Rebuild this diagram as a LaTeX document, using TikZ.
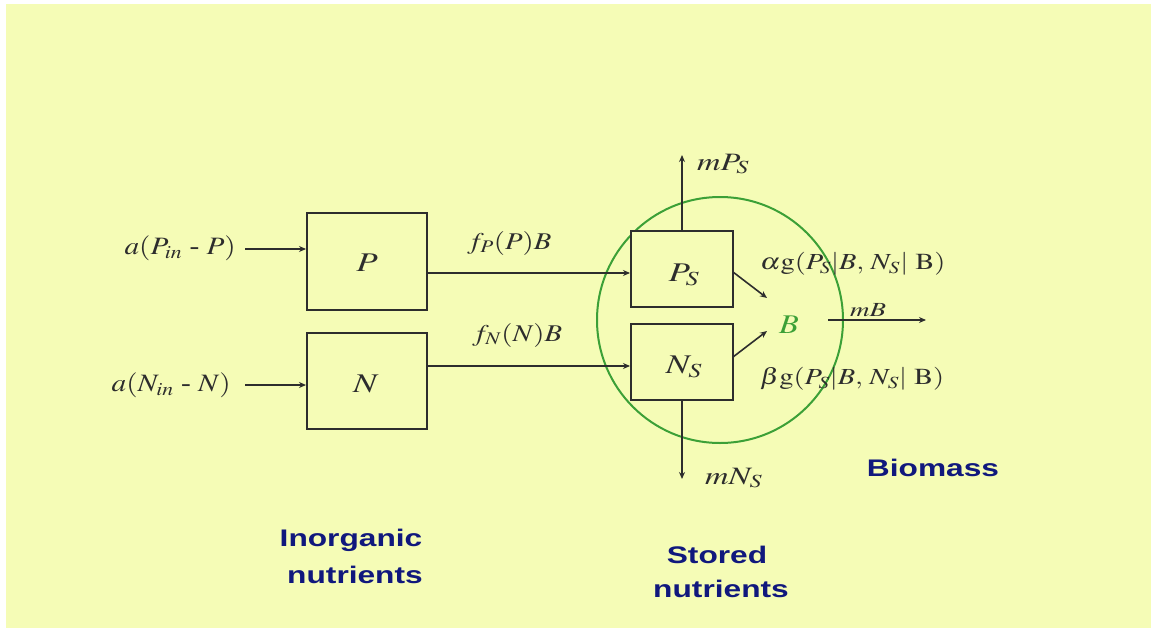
\documentclass[tikz,border=0pt]{standalone}
\usepackage{mathptmx}
\usepackage{fontspec}
\setmainfont{Liberation Serif}
\setsansfont{Liberation Sans}
\usepackage{graphicx}
\usetikzlibrary{arrows.meta,calc}
\definecolor{bgyellow}{RGB}{245,252,182}
\definecolor{navy}{RGB}{16,24,125}
\definecolor{cgreen}{RGB}{60,160,55}
\definecolor{ink}{RGB}{45,45,45}
\newcommand{\wx}[2]{\scalebox{#1}[1]{#2}}
\tikzset{
  box/.style={draw=ink, line width=2pt, fill=bgyellow, inner sep=0pt},
  arr/.style={draw=ink, line width=1.6pt, -{Stealth[length=7pt,width=6pt]}},
  lbl/.style={inner sep=0pt, text=ink, font=\fontsize{25}{28}\selectfont},
  flbl/.style={inner sep=0pt, text=ink, font=\fontsize{24}{28}\selectfont},
  glbl/.style={inner sep=0pt, text=ink, font=\fontsize{23}{28}\selectfont},
  biglbl/.style={inner sep=0pt, text=ink, font=\fontsize{27}{30}\selectfont},
  head/.style={inner sep=0pt, text=navy, font=\sffamily\bfseries\fontsize{24}{34}\selectfont},
}
\begin{document}
\begin{tikzpicture}[x=1pt,y=-1pt]
\useasboundingbox (0,0) rectangle (1151,629);
\fill[white] (0,0) rectangle (1151,629);
\fill[bgyellow] (6,4) rectangle (1151,628);
% circle
\draw[cgreen, line width=2pt] (720,320) circle (123);
% boxes
\node[box, minimum width=120pt, minimum height=97pt] (P) at (367,261.5) {};
\node[biglbl] at (367,263) {\wx{1.3}{$P$}};
\node[box, minimum width=120pt, minimum height=96pt] (N) at (367,381) {};
\node[biglbl] at (366,384) {\wx{1.3}{$N$}};
\node[box, minimum width=102pt, minimum height=76pt] (PS) at (682,269) {};
\node[biglbl] at (684,275) {\wx{1.3}{$P_S$}};
\node[box, minimum width=102pt, minimum height=76pt] (NS) at (682,362) {};
\node[biglbl] at (684,367) {\wx{1.3}{$N_S$}};
% input labels
\node[lbl, anchor=east] (aP) at (236,248) {\wx{1.17}{$a(P_{in}\ \textrm{-}\ P)$}};
\node[lbl, anchor=east] (aN) at (231,385) {\wx{1.17}{$a(N_{in}\ \textrm{-}\ N)$}};
\coordinate (inP) at (245,249);
\coordinate (inN) at (245,385);
\draw[arr] (inP) -- (inP -| P.west);
\draw[arr] (inN) -- (inN -| N.west);
% flows to stored
\coordinate (fP) at (427,273);
\coordinate (fN) at (427,366);
\draw[arr] (fP) -- (fP -| PS.west);
\draw[arr] (fN) -- (fN -| NS.west);
\node[flbl, anchor=west] (lfP) at (467,243) {\wx{1.2}{$f_P(P)B$}};
\node[flbl, anchor=west] (lfN) at (472,335) {\wx{1.2}{$f_N(N)B$}};
% losses
\coordinate (mpsTop) at (682,155);
\coordinate (mnsBot) at (682,479);
\draw[arr] (PS.north) -- (mpsTop);
\draw[arr] (NS.south) -- (mnsBot);
\node[lbl, anchor=west] (lmP) at (697,164) {\wx{1.3}{$mP_S$}};
\node[lbl, anchor=west] (lmN) at (705,478) {\wx{1.3}{$mN_S$}};
% B
\node[inner sep=0pt, text=cgreen, font=\fontsize{27}{30}\selectfont] (B) at (789,325) {\wx{1.2}{$B$}};
\coordinate (gP) at (733,272);
\coordinate (gN) at (733,357);
\coordinate (gPe) at (767,298);
\coordinate (gNe) at (767,331);
\draw[arr] (gP) -- (gPe);
\draw[arr] (gN) -- (gNe);
\node[glbl, anchor=west] (alpha) at (760,264) {\wx{1.24}{$\alpha\mathrm{g}(P_S|B,\,N_S|\ \mathrm{B})$}};
\node[glbl, anchor=west] (beta) at (760,379) {\wx{1.24}{$\beta\mathrm{g}(P_S|B,\,N_S|\ \mathrm{B})$}};
% mB
\coordinate (mB1) at (828,320);
\coordinate (mB2) at (926,320);
\draw[arr] (mB1) -- (mB2);
\node[inner sep=0pt, text=ink, font=\fontsize{20}{24}\selectfont, anchor=west] (lmB) at (850,310) {\wx{1.35}{$mB$}};
% headings
\node[head] (bio) at (933,468) {\wx{1.32}{Biomass}};
\node[head] (inorg1) at (351,540) {\wx{1.32}{Inorganic}};
\node[head] (inorg2) at (355,575) {\wx{1.32}{nutrients}};
\node[head] (stored1) at (717,555) {\wx{1.32}{Stored}};
\node[head] (stored2) at (721,589) {\wx{1.32}{nutrients}};
\end{tikzpicture}
\end{document}
